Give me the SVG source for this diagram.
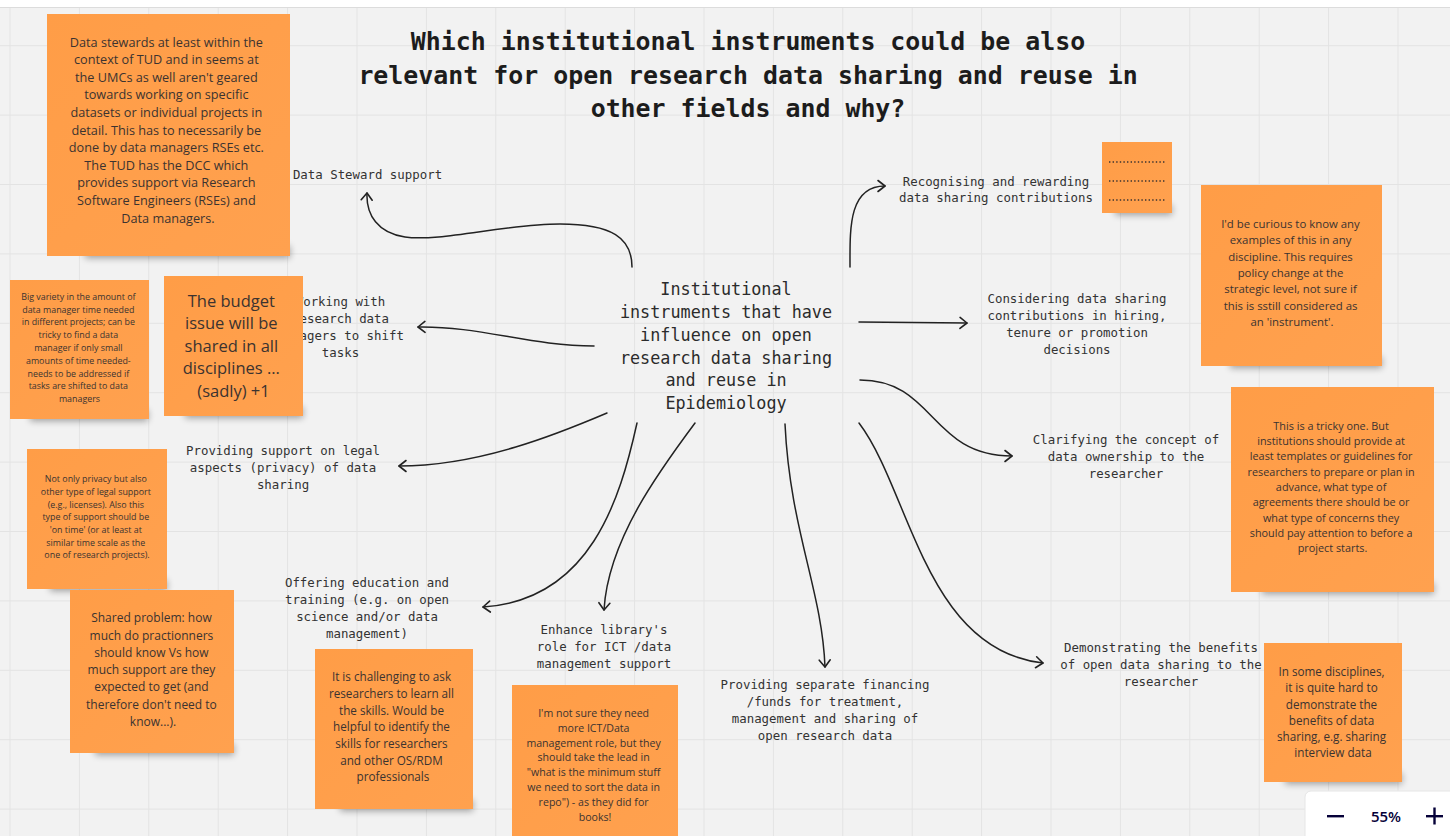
<svg xmlns="http://www.w3.org/2000/svg" width="1450" height="836" viewBox="0 0 1450 836">
  <defs>
    <pattern id="grid" x="9.5" y="45.2" width="69.4" height="69.4" patternUnits="userSpaceOnUse">
      <path d="M0,0.5 H69.4 M0.5,0 V69.4" fill="none" stroke="#e3e3e3" stroke-width="1"/>
    </pattern>
    <filter id="shadowBlur" x="-20%" y="-100%" width="140%" height="300%">
      <feGaussianBlur stdDeviation="3.5"/>
    </filter>
    <linearGradient id="stickyFill" x1="0" y1="0" x2="1" y2="1">
      <stop offset="0" stop-color="#ff9d47"/>
      <stop offset="1" stop-color="#ffa14f"/>
    </linearGradient>
    <marker id="arrow" viewBox="-10 -10 20 20" refX="0" refY="0" markerWidth="20" markerHeight="20" markerUnits="userSpaceOnUse" orient="auto">
      <path d="M-7,-5.5 L0,0 L-7,5.5" fill="none" stroke="#222" stroke-width="1.6" stroke-linecap="round" stroke-linejoin="round"/>
    </marker>
  </defs>
  <style>
    .title { font-family: "DejaVu Sans Mono", "Liberation Mono", monospace; font-weight: bold; font-size: 24.9px; fill: #1c1c1c; text-anchor: middle; }
    .hub { font-family: "DejaVu Sans Mono", "Liberation Mono", monospace; font-size: 16.8px; fill: #2b2b2b; text-anchor: middle; }
    .lbl { font-family: "DejaVu Sans Mono", "Liberation Mono", monospace; font-size: 12.4px; fill: #333; text-anchor: middle; }
    .note { font-family: "Open Sans", "Noto Sans", sans-serif; fill: #3b3330; text-anchor: middle; }
    .sticky { fill: url(#stickyFill); }
    .shadow { fill: #000; opacity: 0.35; filter: url(#shadowBlur); }
    .edge { fill: none; stroke: #222; stroke-width: 1.5; stroke-linecap: round; marker-end: url(#arrow); }
    .ui { fill: #050038; }
  </style>

  <!-- board background -->
  <rect x="0" y="0" width="1450" height="836" fill="#f2f2f2"/>
  <rect x="0" y="0" width="1450" height="836" fill="url(#grid)"/>
  <rect x="0" y="0" width="1450" height="7" fill="#ffffff"/>
  <line x1="0" y1="7.5" x2="1450" y2="7.5" stroke="#dcdcdc"/>

  <!-- heading -->
  <g id="title">
    <text class="title" x="748" y="50">Which institutional instruments could be also</text>
    <text class="title" x="748" y="84">relevant for open research data sharing and reuse in</text>
    <text class="title" x="748" y="117">other fields and why?</text>
  </g>

  <!-- connectors -->
  <g id="connectors">
    <path class="edge" d="M632,267 C632,238 612,224 560,224 C505,224 440,242 405,237 C378,233 366,215 367,193"/>
    <path class="edge" d="M594,346 C530,346 480,326 418,327"/>
    <path class="edge" d="M607,413 C560,433 480,466 399,466"/>
    <path class="edge" d="M637,423 C620,500 590,600 483,607"/>
    <path class="edge" d="M695,423 C660,470 608,540 604,610"/>
    <path class="edge" d="M785,424 C790,530 822,590 825,667"/>
    <path class="edge" d="M859,423 C910,490 925,650 1043,663"/>
    <path class="edge" d="M860,380 C935,380 930,456 1012,456"/>
    <path class="edge" d="M859,322 L967,323"/>
    <path class="edge" d="M850,267 C850,230 848,186 885,186"/>
  </g>

  <!-- central topic -->
  <g id="hub">
    <text class="hub" x="726" y="295">Institutional</text>
    <text class="hub" x="726" y="318">instruments that have</text>
    <text class="hub" x="726" y="341">influence on open</text>
    <text class="hub" x="726" y="364">research data sharing</text>
    <text class="hub" x="726" y="386">and reuse in</text>
    <text class="hub" x="726" y="409">Epidemiology</text>
  </g>

  <!-- instrument labels -->
  <g id="data-steward">
    <text class="lbl" x="367.5" y="178.5">Data Steward support</text>
  </g>
  <g id="working-with">
    <text class="lbl" x="340.5" y="305.5">Working with</text>
    <text class="lbl" x="340.5" y="322.7">research data</text>
    <text class="lbl" x="340.5" y="339.9">managers to shift</text>
    <text class="lbl" x="340.5" y="357.1">tasks</text>
  </g>
  <g id="legal-support">
    <text class="lbl" x="283" y="454.5">Providing support on legal</text>
    <text class="lbl" x="283" y="471.7">aspects (privacy) of data</text>
    <text class="lbl" x="283" y="488.9">sharing</text>
  </g>
  <g id="education">
    <text class="lbl" x="367" y="586.5">Offering education and</text>
    <text class="lbl" x="367" y="603.5">training (e.g. on open</text>
    <text class="lbl" x="367" y="620.5">science and/or data</text>
    <text class="lbl" x="367" y="637.5">management)</text>
  </g>
  <g id="library">
    <text class="lbl" x="604" y="633.5">Enhance library's</text>
    <text class="lbl" x="604" y="650.5">role for ICT /data</text>
    <text class="lbl" x="604" y="667.5">management support</text>
  </g>
  <g id="financing">
    <text class="lbl" x="825" y="688.5">Providing separate financing</text>
    <text class="lbl" x="825" y="705.5">/funds for treatment,</text>
    <text class="lbl" x="825" y="722.5">management and sharing of</text>
    <text class="lbl" x="825" y="739.5">open research data</text>
  </g>
  <g id="benefits">
    <text class="lbl" x="1161" y="652">Demonstrating the benefits</text>
    <text class="lbl" x="1161" y="669">of open data sharing to the</text>
    <text class="lbl" x="1161" y="686">researcher</text>
  </g>
  <g id="ownership">
    <text class="lbl" x="1126" y="443.5">Clarifying the concept of</text>
    <text class="lbl" x="1126" y="460.5">data ownership to the</text>
    <text class="lbl" x="1126" y="477.5">researcher</text>
  </g>
  <g id="hiring">
    <text class="lbl" x="1077" y="302.5">Considering data sharing</text>
    <text class="lbl" x="1077" y="319.7">contributions in hiring,</text>
    <text class="lbl" x="1077" y="336.9">tenure or promotion</text>
    <text class="lbl" x="1077" y="354.1">decisions</text>
  </g>
  <g id="rewarding">
    <text class="lbl" x="996" y="185.5">Recognising and rewarding</text>
    <text class="lbl" x="996" y="202">data sharing contributions</text>
  </g>

  <!-- sticky notes -->
  <g id="note-data-stewards">
    <rect class="shadow" x="85" y="246" width="205" height="12"/>
    <rect class="sticky" x="47" y="14" width="243" height="242"/>
    <text class="note" font-size="12.7">
      <tspan x="168" y="46.5">Data stewards at least within the</tspan>
      <tspan x="168" y="64.1">context of TUD and in seems at</tspan>
      <tspan x="168" y="81.7">the UMCs as well aren't geared</tspan>
      <tspan x="168" y="99.3">towards working on specific</tspan>
      <tspan x="168" y="116.9">datasets or individual projects in</tspan>
      <tspan x="168" y="134.5">detail. This has to necessarily be</tspan>
      <tspan x="168" y="152.1">done by data managers RSEs etc.</tspan>
      <tspan x="168" y="169.7">The TUD has the DCC which</tspan>
      <tspan x="168" y="187.3">provides support via Research</tspan>
      <tspan x="168" y="204.9">Software Engineers (RSEs) and</tspan>
      <tspan x="168" y="222.5">Data managers.</tspan>
    </text>
  </g>

  <g id="note-variety">
    <rect class="shadow" x="30" y="410" width="118" height="11"/>
    <rect class="sticky" x="10" y="280" width="139" height="139"/>
    <text class="note" font-size="8.9">
      <tspan x="79.5" y="299.8">Big variety in the amount of</tspan>
      <tspan x="79.5" y="312.6">data manager time needed</tspan>
      <tspan x="79.5" y="325.4">in different projects; can be</tspan>
      <tspan x="79.5" y="338.2">tricky to find a data</tspan>
      <tspan x="79.5" y="351">manager if only small</tspan>
      <tspan x="79.5" y="363.8">amounts of time needed-</tspan>
      <tspan x="79.5" y="376.6">needs to be addressed if</tspan>
      <tspan x="79.5" y="389.4">tasks are shifted to data</tspan>
      <tspan x="79.5" y="402.2">managers</tspan>
    </text>
  </g>

  <g id="note-budget">
    <rect class="shadow" x="185" y="407" width="118" height="11"/>
    <rect class="sticky" x="164" y="276" width="139" height="140"/>
    <text class="note" font-size="16.5">
      <tspan x="233.5" y="307">The budget</tspan>
      <tspan x="233.5" y="329.4">issue will be</tspan>
      <tspan x="233.5" y="351.8">shared in all</tspan>
      <tspan x="233.5" y="374.2">disciplines ...</tspan>
      <tspan x="233.5" y="396.6">(sadly) +1</tspan>
    </text>
  </g>

  <g id="note-legal">
    <rect class="shadow" x="50" y="580" width="117" height="11"/>
    <rect class="sticky" x="27" y="449" width="140" height="140"/>
    <text class="note" font-size="8.9">
      <tspan x="97" y="482.2">Not only privacy but also</tspan>
      <tspan x="97" y="494.9">other type of legal support</tspan>
      <tspan x="97" y="507.6">(e.g., licenses). Also this</tspan>
      <tspan x="97" y="520.3">type of support should be</tspan>
      <tspan x="97" y="533">'on time' (or at least at</tspan>
      <tspan x="97" y="545.7">similar time scale as the</tspan>
      <tspan x="97" y="558.4">one of research projects).</tspan>
    </text>
  </g>

  <g id="note-shared-problem">
    <rect class="shadow" x="95" y="744" width="139" height="11"/>
    <rect class="sticky" x="70" y="590" width="164" height="163"/>
    <text class="note" font-size="12">
      <tspan x="153" y="622.2">Shared problem: how</tspan>
      <tspan x="153" y="639.5">much do practionners</tspan>
      <tspan x="153" y="656.8">should know Vs how</tspan>
      <tspan x="153" y="674.1">much support are they</tspan>
      <tspan x="153" y="691.4">expected to get (and</tspan>
      <tspan x="153" y="708.7">therefore don't need to</tspan>
      <tspan x="153" y="726">know...).</tspan>
    </text>
  </g>

  <g id="note-skills">
    <rect class="shadow" x="340" y="800" width="133" height="11"/>
    <rect class="sticky" x="315" y="649" width="158" height="160"/>
    <text class="note" font-size="11.7">
      <tspan x="393" y="681.1">It is challenging to ask</tspan>
      <tspan x="393" y="697.8">researchers to learn all</tspan>
      <tspan x="393" y="714.5">the skills. Would be</tspan>
      <tspan x="393" y="731.2">helpful to identify the</tspan>
      <tspan x="393" y="747.9">skills for researchers</tspan>
      <tspan x="393" y="764.6">and other OS/RDM</tspan>
      <tspan x="393" y="781.3">professionals</tspan>
    </text>
  </g>

  <g id="note-library">
    <rect class="sticky" x="512" y="685" width="166" height="160"/>
    <text class="note" font-size="10.6">
      <tspan x="595" y="716.7">I'm not sure they need</tspan>
      <tspan x="595" y="731.6">more ICT/Data</tspan>
      <tspan x="595" y="746.5">management role, but they</tspan>
      <tspan x="595" y="761.4">should take the lead in</tspan>
      <tspan x="595" y="776.3">"what is the minimum stuff</tspan>
      <tspan x="595" y="791.2">we need to sort the data in</tspan>
      <tspan x="595" y="806.1">repo") - as they did for</tspan>
      <tspan x="595" y="821">books!</tspan>
    </text>
  </g>

  <g id="note-dots">
    <rect class="shadow" x="1115" y="205" width="57" height="10"/>
    <rect class="sticky" x="1102" y="142" width="70" height="71"/>
    <g stroke="#3b3330" stroke-width="1.6" stroke-dasharray="1.4 2.2" stroke-linecap="butt">
      <line x1="1109" y1="162" x2="1166" y2="162"/>
      <line x1="1109" y1="181" x2="1166" y2="181"/>
      <line x1="1109" y1="200" x2="1166" y2="200"/>
    </g>
  </g>

  <g id="note-curious">
    <rect class="shadow" x="1230" y="357" width="152" height="11"/>
    <rect class="sticky" x="1201" y="185" width="181" height="181"/>
    <text class="note" font-size="11.4">
      <tspan x="1292" y="228">I'd be curious to know any</tspan>
      <tspan x="1292" y="244.3">examples of this in any</tspan>
      <tspan x="1292" y="260.6">discipline. This requires</tspan>
      <tspan x="1292" y="276.9">policy change at the</tspan>
      <tspan x="1292" y="293.2">strategic level, not sure if</tspan>
      <tspan x="1292" y="309.5">this is sstill considered as</tspan>
      <tspan x="1292" y="325.8">an 'instrument'.</tspan>
    </text>
  </g>

  <g id="note-tricky">
    <rect class="shadow" x="1262" y="583" width="172" height="11"/>
    <rect class="sticky" x="1231" y="387" width="203" height="205"/>
    <text class="note" font-size="10.85">
      <tspan x="1332.5" y="429.8">This is a tricky one. But</tspan>
      <tspan x="1332.5" y="445.1">institutions should provide at</tspan>
      <tspan x="1332.5" y="460.4">least templates or guidelines for</tspan>
      <tspan x="1332.5" y="475.7">researchers to prepare or plan in</tspan>
      <tspan x="1332.5" y="491">advance, what type of</tspan>
      <tspan x="1332.5" y="506.3">agreements there should be or</tspan>
      <tspan x="1332.5" y="521.6">what type of concerns they</tspan>
      <tspan x="1332.5" y="536.9">should pay attention to before a</tspan>
      <tspan x="1332.5" y="552.2">project starts.</tspan>
    </text>
  </g>

  <g id="note-disciplines">
    <rect class="shadow" x="1285" y="773" width="117" height="11"/>
    <rect class="sticky" x="1264" y="643" width="138" height="139"/>
    <text class="note" font-size="11.7">
      <tspan x="1333" y="676.1">In some disciplines,</tspan>
      <tspan x="1333" y="692.3">it is quite hard to</tspan>
      <tspan x="1333" y="708.5">demonstrate the</tspan>
      <tspan x="1333" y="724.7">benefits of data</tspan>
      <tspan x="1333" y="740.9">sharing, e.g. sharing</tspan>
      <tspan x="1333" y="757.1">interview data</tspan>
    </text>
  </g>

  <!-- zoom control -->
  <g id="zoom-control">
    <rect x="1305" y="791" width="160" height="60" rx="6" fill="#ffffff" stroke="#e6e6e6"/>
    <rect class="ui" x="1327" y="815" width="17" height="2.4"/>
    <text x="1386" y="821.5" font-family="'Open Sans', 'Noto Sans', sans-serif" font-size="15" font-weight="600" fill="#050038" text-anchor="middle">55%</text>
    <rect class="ui" x="1426" y="815" width="17" height="2.4"/>
    <rect class="ui" x="1433.3" y="807.5" width="2.4" height="17"/>
  </g>
</svg>
